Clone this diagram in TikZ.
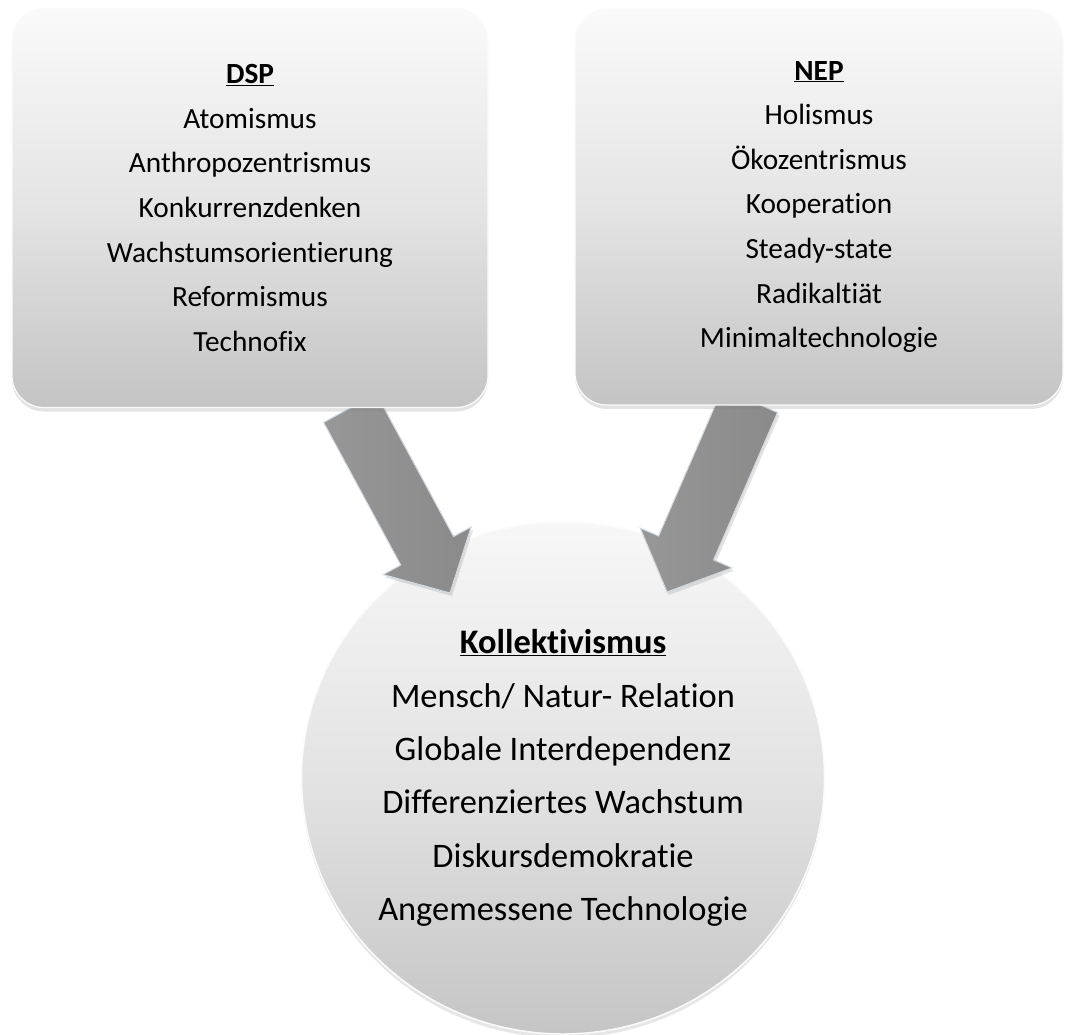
\documentclass[tikz,border=0pt]{standalone}
\usepackage{fontspec}
\setmainfont{Carlito}[Ligatures={NoCommon,NoRequired,NoContextual}]
\usetikzlibrary{calc,shadows,shapes.geometric}

\definecolor{paneltop}{HTML}{FAFAFA}
\definecolor{panelmid}{HTML}{E4E4E4}
\definecolor{panelbot}{HTML}{C4C4C4}
\definecolor{disctop}{HTML}{F7F7F7}
\definecolor{discmid}{HTML}{E3E3E3}
\definecolor{discbot}{HTML}{C5C5C5}
\definecolor{arrowlight}{HTML}{979797}
\definecolor{arrowdark}{HTML}{8A8A8A}
\definecolor{arrowedge}{HTML}{D4DCE4}
\definecolor{rim}{HTML}{FBFBFB}

\pgfdeclarelayer{disc}
\pgfdeclarelayer{arrows}
\pgfsetlayers{disc,arrows,main}

% block arrow from #1 (tail) to #2 (tip)
\newcommand\blockarrow[2]{%
  \coordinate (hb) at ($(#2)!48pt!(#1)$);
  \filldraw[flowarrow]
    ($(#1)!30pt!90:(#2)$) -- ($(hb)!30pt!90:(#2)$) -- ($(hb)!50pt!90:(#2)$)
    -- (#2) -- ($(hb)!50pt!-90:(#2)$) -- ($(hb)!30pt!-90:(#2)$)
    -- ($(#1)!30pt!-90:(#2)$) -- cycle;
}

\begin{document}
\begin{tikzpicture}[x=1pt,y=-1pt,
  panel/.style={rectangle, rounded corners=32pt, top color=paneltop,
    bottom color=panelbot, middle color=panelmid, draw=rim, line width=1.2pt,
    inner sep=0pt, align=center, font=\fontsize{29.3}{44.6}\selectfont,
    drop shadow={opacity=0.22, shadow xshift=0pt, shadow yshift=-4pt}},
  discnode/.style={ellipse, top color=disctop, bottom color=discbot,
    middle color=discmid, draw=rim, line width=1.5pt, inner sep=0pt,
    align=center, font=\fontsize{34.4}{53.4}\selectfont,
    drop shadow={opacity=0.2, shadow xshift=0pt, shadow yshift=-4pt}},
  flowarrow/.style={left color=arrowlight, right color=arrowdark,
    draw=arrowedge, line width=1pt, line join=miter,
    drop shadow={opacity=0.22, shadow xshift=2pt, shadow yshift=-3pt}}
]
\useasboundingbox (0,0) rectangle (1065,1034);

% the two paradigm panels
\node[panel, minimum width=476pt, minimum height=399pt] (dsp) at (250,208)
  {\underline{\textbf{DSP}}\\Atomismus\\Anthropozentrismus\\Konkurrenzdenken\\
   Wachstumsorientierung\\Reformismus\\Technofix};
\node[panel, minimum width=488pt, minimum height=396pt] (nep) at (819,207)
  {\underline{\textbf{NEP}}\\Holismus\\Ökozentrismus\\Kooperation\\
   Steady-state\\Radikaltiät\\Minimaltechnologie};

% the synthesis disc
\begin{pgfonlayer}{disc}
\node[discnode, minimum width=523pt, minimum height=512pt] (kol) at (563,778)
  {\underline{\textbf{Kollektivismus}}\\Mensch/ Natur- Relation\\
   Globale Interdependenz\\Differenziertes Wachstum\\
   Diskursdemokratie\\Angemessene Technologie};
\end{pgfonlayer}

% block arrows from the panels into the disc
\begin{pgfonlayer}{arrows}
\coordinate (dspout) at ($(dsp.south)+(100,0)$);
\coordinate (dspin)  at ($(kol.center)+(-113,-185)$);
\coordinate (nepout) at ($(nep.south)+(-69,-5)$);
\coordinate (nepin)  at ($(kol.center)+(104,-186)$);
\blockarrow{dspout}{dspin}
\blockarrow{nepout}{nepin}
\end{pgfonlayer}
\end{tikzpicture}
\end{document}
